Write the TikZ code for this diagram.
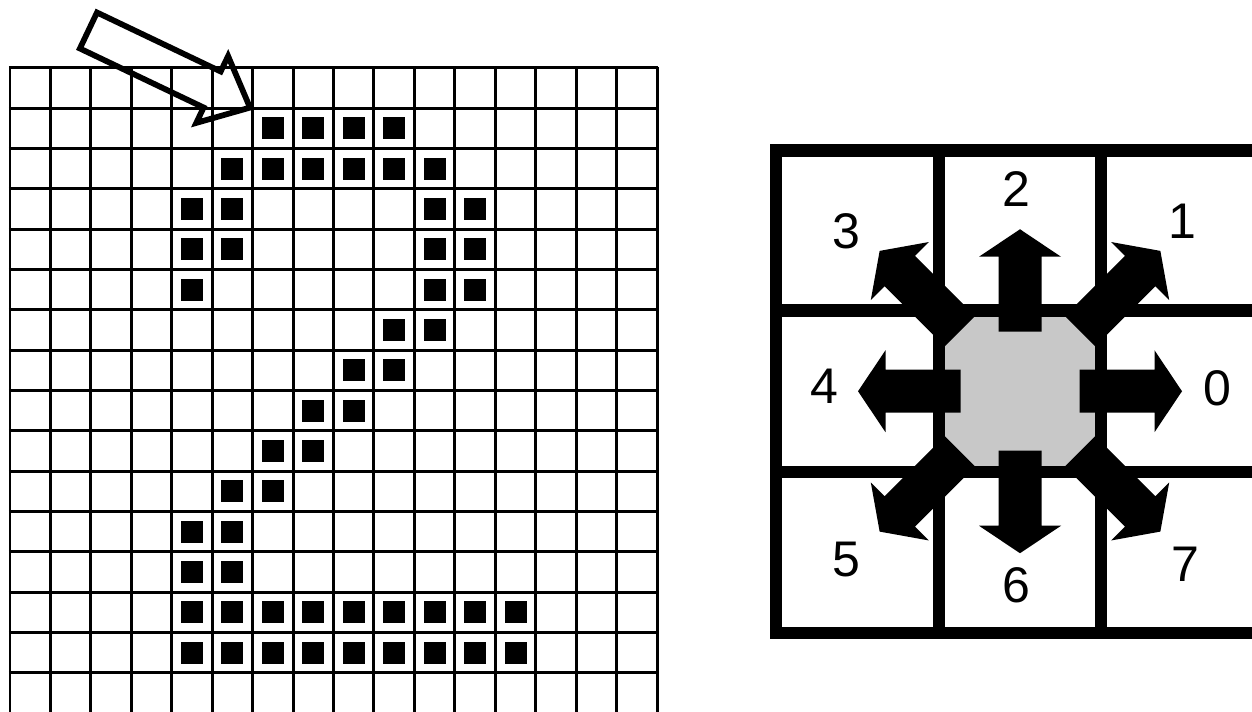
\documentclass[tikz,border=0pt]{standalone}
\usepackage{fontspec}
\setmainfont{Liberation Sans}
\usetikzlibrary{positioning}
\definecolor{octgrey}{RGB}{200,200,200}

\begin{document}
\begin{tikzpicture}[
    x=0.02cm, y=-0.02cm,
    thinline/.style={line width=0.6mm, black},
    pixel/.style={fill=black},
    hollowarrow/.style={draw=black, line width=1.15mm, line join=miter},
    thickline/.style={line width=2.5mm, black, line join=miter},
    dirarrow/.style={fill=black},
    octagon/.style={fill=octgrey},
    digit/.style={inner sep=0pt, font=\fontsize{28.5}{30}\selectfont},
]

\clip (0,0) rectangle (1252,712);

% Pixel grid
\begin{scope}
    \foreach \i in {0,...,16}
        \draw[thinline] ({10+40.44*\i},66.8) -- ({10+40.44*\i},720);
    \foreach \j in {0,...,15}
        \draw[thinline] (8.8,{68+40.33*\j}) -- (658.2,{68+40.33*\j});

    % Black pixels (row/columns)
    \foreach \r/\cs in {1/{6,7,8,9}, 2/{5,6,7,8,9,10}, 3/{4,5,10,11},
                        4/{4,5,10,11}, 5/{4,10,11}, 6/{9,10}, 7/{8,9},
                        8/{7,8}, 9/{6,7}, 10/{5,6}, 11/{4,5}, 12/{4,5},
                        13/{4,5,6,7,8,9,10,11,12}, 14/{4,5,6,7,8,9,10,11,12}}
        \foreach \c in \cs
            \fill[pixel] ({10+40.44*(\c+0.5)-11},{68+40.33*(\r+0.5)-11})
                rectangle ++(22,22);

    % Start point marker
    \draw[hollowarrow] (97,12.5) -- (220.7,71.5) -- (228.1,56.1) -- (250,107.6)
        -- (196.3,122.9) -- (203.6,107.5) -- (79.9,48.5) -- cycle;
\end{scope}

% Chain code directions
\begin{scope}
    \coordinate (ctr) at (1020,391.25);

    \fill[octagon] (939,352.25) -- (978,310.25) -- (1062,310.25) -- (1101,352.25)
        -- (1101,430.25) -- (1062,472.25) -- (978,472.25) -- (939,430.25) -- cycle;

    \draw[thickline] (776,150.5) rectangle (1263,633);
    \draw[thickline] (939,150.5) -- (939,633);
    \draw[thickline] (1101,150.5) -- (1101,633);
    \draw[thickline] (776,310.5) -- (1263,310.5);
    \draw[thickline] (776,472) -- (1263,472);

    \foreach \a/\s/\b/\t in {0/59.5/134.5/162, 90/59.5/134.5/162,
                             180/59.5/134.5/162, 270/59.5/134.5/162,
                             45/85/170/198.5, 135/85/170/198.5,
                             225/85/170/198.5, 315/85/170/198.5}
        \fill[dirarrow, shift={(ctr)}, rotate=\a]
            (\s,-21.5) -- (\b,-21.5) -- (\b,-41) -- (\t,0) -- (\b,41)
            -- (\b,21.5) -- (\s,21.5) -- cycle;

    \node[digit] (lab0) at (1217.3,388.3) {0};
    \node[digit] (lab1) at (1182.5,221) {1};
    \node[digit] (lab2) at (1016,189.3) {2};
    \node[digit] (lab3) at (846,231) {3};
    \node[digit] (lab4) at (824.3,386.7) {4};
    \node[digit] (lab5) at (846.7,560) {5};
    \node[digit] (lab6) at (1016.7,585.7) {6};
    \node[digit] (lab7) at (1185,564) {7};
\end{scope}

\end{tikzpicture}
\end{document}
